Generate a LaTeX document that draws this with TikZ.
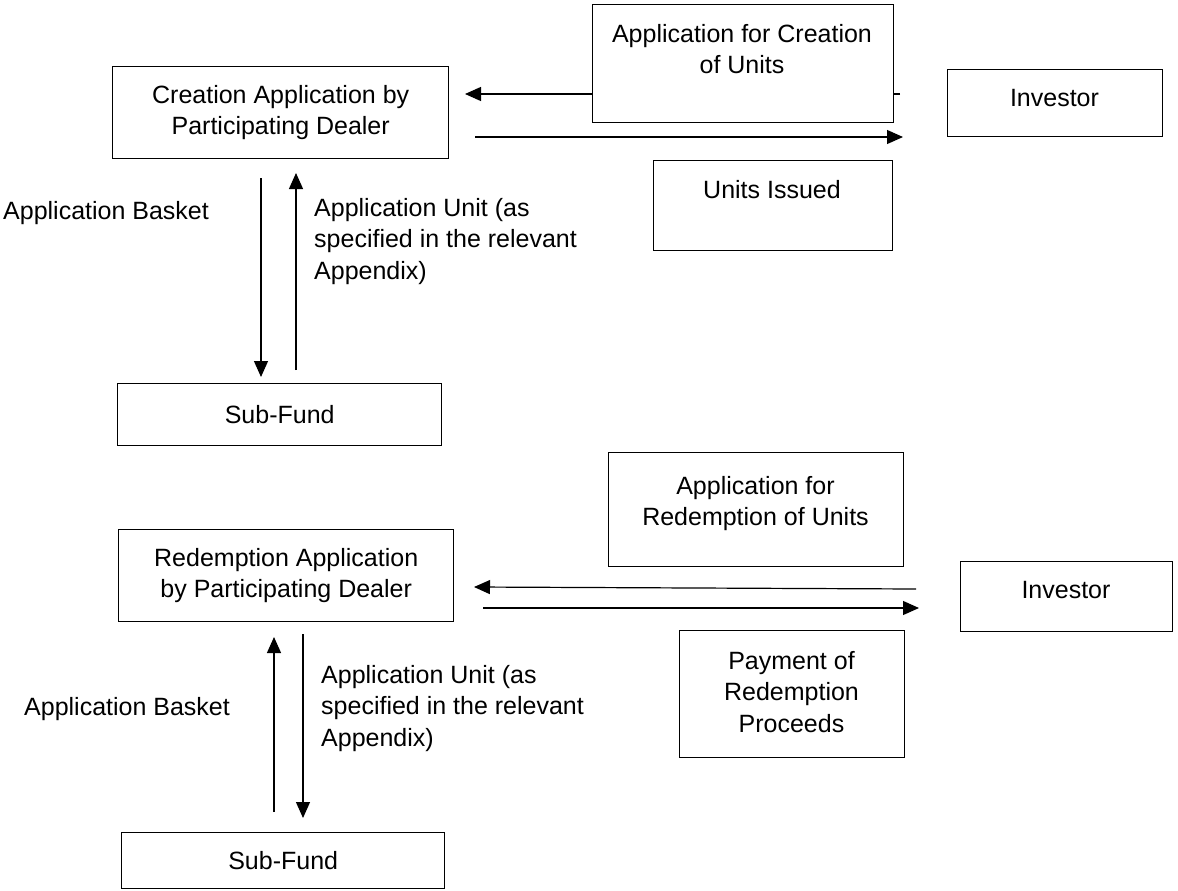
\documentclass[tikz,border=0pt]{standalone}
\usepackage{fontspec}
\setmainfont{Liberation Sans}
\usetikzlibrary{arrows.meta}
\tikzset{
  box/.style={draw, line width=1.4bp, fill=white, inner sep=0pt, anchor=north west,
    align=center, font=\fontsize{25bp}{31.5bp}\selectfont},
  txt/.style={inner sep=0pt, align=center, font=\fontsize{25bp}{31.5bp}\selectfont},
  lbl/.style={inner sep=0pt, align=left, anchor=north west, font=\fontsize{25bp}{31.5bp}\selectfont},
  flow/.style={line width=1.2bp, -{Triangle[length=16bp,width=14bp]}}
}
\begin{document}
\begin{tikzpicture}[x=1bp, y=-1bp]
\useasboundingbox (0,0) rectangle (1178,891);

% ---------- creation ----------
\node[box, minimum width=336bp, minimum height=92bp] (A) at (112,66)
  {Creation Application by\\Participating Dealer};
\coordinate (a1s) at (900,94);
\coordinate (a1e) at (465,94);
\draw[flow] (a1s) -- (a1e);
\node[box, minimum width=301bp, minimum height=118bp] (B) at (592,4) {};
\node[txt, anchor=north] (Bt) at (742,24) {Application for Creation\\of Units};
\node[box, minimum width=215bp, minimum height=67bp] (C) at (947,69) {};
\node[txt, anchor=north] (Ct) at (1054.5,89) {Investor};
\coordinate (a2s) at (475,137);
\coordinate (a2e) at (903,137);
\draw[flow] (a2s) -- (a2e);
\node[box, minimum width=239bp, minimum height=90bp] (E) at (653,160) {};
\node[txt, anchor=north] (Et) at (772,180) {Units Issued};

\node[box, minimum width=324bp, minimum height=62bp] (F) at (117,383) {Sub-Fund};
\coordinate (a3s) at (261,178);
\coordinate (a3e) at (261,377);
\draw[flow] (a3s) -- (a3e);
\coordinate (a4s) at (296,370);
\coordinate (a4e) at (296,173);
\draw[flow] (a4s) -- (a4e);
\node[lbl] (L1) at (3,201) {Application Basket};
\node[lbl] (L2) at (314,198) {Application Unit (as\\specified in the relevant\\Appendix)};

% ---------- redemption ----------
\node[box, minimum width=295bp, minimum height=114bp] (G) at (608,452) {};
\node[txt, anchor=north] (Gt) at (755.5,476) {Application for\\Redemption of Units};
\node[box, minimum width=335bp, minimum height=92bp] (D) at (118,529)
  {Redemption Application\\by Participating Dealer};
\node[box, minimum width=212bp, minimum height=70bp] (H) at (960,561) {};
\node[txt, anchor=north] (Ht) at (1066,581) {Investor};
\coordinate (b1s) at (916,589);
\coordinate (b1e) at (474,587);
\draw[flow] (b1s) -- (b1e);
\coordinate (b2s) at (483,608);
\coordinate (b2e) at (919,608);
\draw[flow] (b2s) -- (b2e);
\node[box, minimum width=225bp, minimum height=127bp] (I) at (679,630) {};
\node[txt, anchor=north] (It) at (791.5,651) {Payment of\\Redemption\\Proceeds};

\node[box, minimum width=323bp, minimum height=56bp] (J) at (121,832) {Sub-Fund};
\coordinate (b3s) at (274,812);
\coordinate (b3e) at (274,637);
\draw[flow] (b3s) -- (b3e);
\coordinate (b4s) at (303,634);
\coordinate (b4e) at (303,818);
\draw[flow] (b4s) -- (b4e);
\node[lbl] (L3) at (24,697) {Application Basket};
\node[lbl] (L4) at (321,665) {Application Unit (as\\specified in the relevant\\Appendix)};
\end{tikzpicture}
\end{document}
